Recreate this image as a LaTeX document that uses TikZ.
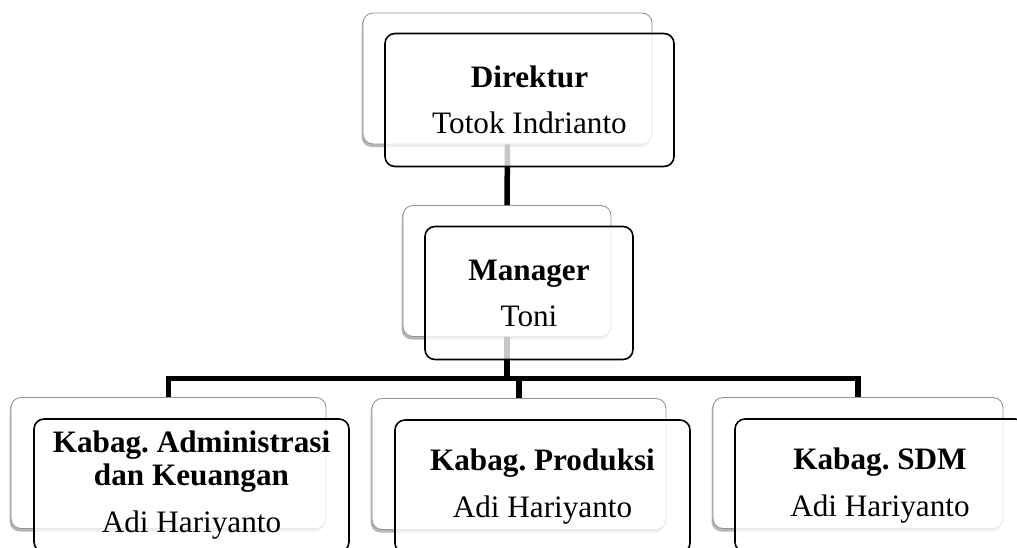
\documentclass[tikz,border=0pt]{standalone}
\usepackage{fontspec}
\setmainfont{Liberation Serif}
\usetikzlibrary{shadows}
\frenchspacing
\begin{document}
\begin{tikzpicture}[x=1pt,y=-1pt,
  backbox/.style={draw=black!42,line width=0.9pt,fill=white,rounded corners=10pt,
    inner sep=0pt,minimum height=131pt,
    drop shadow={shadow xshift=-1.5pt,shadow yshift=-3pt,opacity=0.4,fill=black!70}},
  frontbox/.style={draw=black,line width=1.6pt,fill=white,fill opacity=0.78,text opacity=1,
    rounded corners=10pt,inner sep=0pt,minimum height=133pt,align=center,
    font=\fontsize{31.2}{33}\selectfont},
  conn/.style={draw=black,line width=5.5pt}]
\useasboundingbox (0,0) rectangle (1017,547);
\clip (0,0) rectangle (1017,547);
% back boxes
\node[backbox,minimum width=289pt] (dirB) at (507.5,78.5) {};
\node[backbox,minimum width=208pt] (manB) at (507,271) {};
\node[backbox,minimum width=315pt] (c1B) at (168.5,463) {};
\node[backbox,minimum width=294pt] (c2B) at (519,464) {};
\node[backbox,minimum width=290pt] (c3B) at (858,463) {};
% connectors
\coordinate (bar) at (0,378.7);
\draw[conn] (dirB.south) -- (manB.north);
\draw[conn] (manB.south) -- (manB.south |- bar);
\draw[conn] (c1B.north) |- (c3B.north |- bar) -- (c3B.north);
\draw[conn] (c2B.north) -- (c2B.north |- bar);
% front boxes
\node[frontbox,minimum width=289pt] (dirF) at (529.5,100) {\textbf{Direktur}\\[13pt]Totok Indrianto};
\node[frontbox,minimum width=208pt] (manF) at (529,293) {\textbf{Manager}\\[13pt]Toni};
\node[frontbox,minimum width=315pt] (c1F) at (191.5,485.5) {\textbf{Kabag. Administrasi}\\\textbf{dan Keuangan}\\[14pt]Adi Hariyanto};
\node[frontbox,minimum width=295pt] (c2F) at (542.5,486.5) {\textbf{Kabag. Produksi}\\[14pt]Adi Hariyanto};
\node[frontbox,minimum width=290pt] (c3F) at (880,485.5) {\textbf{Kabag. SDM}\\[14pt]Adi Hariyanto};
\end{tikzpicture}
\end{document}
